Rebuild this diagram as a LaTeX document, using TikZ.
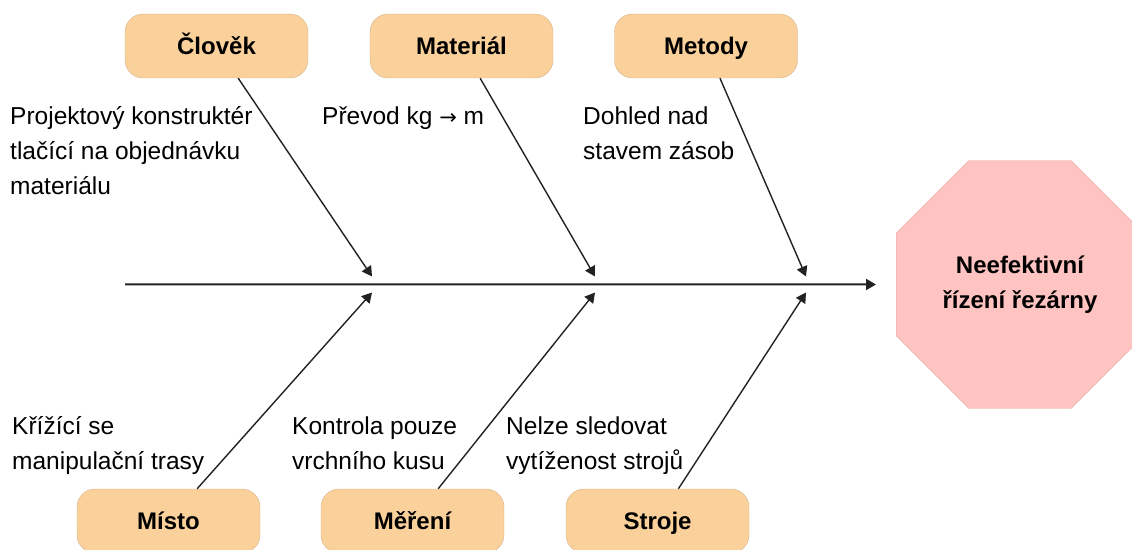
\documentclass[tikz,border=0pt]{standalone}
\usepackage{fontspec}
\setmainfont{Liberation Sans}
\newfontfamily\arrowfont{DejaVu Sans}
\usetikzlibrary{arrows.meta}
\usetikzlibrary{shapes.geometric}

\definecolor{boxfill}{RGB}{250,208,155}
\definecolor{boxline}{RGB}{214,180,140}
\definecolor{headfill}{RGB}{255,196,194}
\definecolor{headline}{RGB}{230,165,165}
\definecolor{ink}{RGB}{34,34,34}

\begin{document}
\begin{tikzpicture}[x=1pt, y=1pt, line/.style={>={Triangle[length=10pt, width=11pt]}},
	cause/.style={draw=boxline, fill=boxfill, rounded corners=18pt, minimum width=183pt, minimum height=64pt,
		text height=17pt, text depth=0pt, font=\fontsize{24}{30}\selectfont\bfseries},
	note/.style={anchor=base west, align=left, inner sep=0pt, font=\fontsize{24.5}{35}\selectfont},
	rib/.style={color=ink, line width=1.4pt}]

	\useasboundingbox (0, 0) rectangle (1132, 549);

	\coordinate (tail) at (125, 264.5);
	\coordinate (s1) at (372, 264.5);
	\coordinate (s2) at (595, 264.5);
	\coordinate (s3) at (806, 264.5);

	\node[draw=headline, fill=headfill, regular polygon, regular polygon sides=8, minimum size=268pt,
		inner sep=0pt, align=center, font=\fontsize{24}{35}\selectfont\bfseries]
		(effect) at (1020, 264.5) {Neefektivní\\řízení řezárny};

	\node[cause] (clovek) at (216.5, 503) {Člověk};
	\node[cause] (material) at (461.5, 503) {Materiál};
	\node[cause] (metody) at (706, 503) {Metody};
	\node[cause] (misto) at (168.5, 28) {Místo};
	\node[cause] (mereni) at (412.5, 28) {Měření};
	\node[cause] (stroje) at (657.5, 28) {Stroje};

	% base = last line of each note
	\node[note] (pozn1) at (10, 354.5) {Projektový konstruktér\\tlačící na objednávku\\materiálu};
	\node[note] (pozn2) at (322, 424.5) {Převod kg {\arrowfont\fontsize{21}{35}\selectfont →} m};
	\node[note] (pozn3) at (583, 389.5) {Dohled nad\\stavem zásob};
	\node[note] (pozn4) at (12, 80) {Křížící se\\manipulační trasy};
	\node[note] (pozn5) at (292, 80) {Kontrola pouze\\vrchního kusu};
	\node[note] (pozn6) at (506, 80) {Nelze sledovat\\vytíženost strojů};

	\draw[->, line, color=ink, line width=2pt] (tail) -- ([xshift=-20pt]effect.west);

	\draw[->, line, rib] (clovek) -- ([yshift=8pt]s1);
	\draw[->, line, rib] (material) -- ([yshift=8pt]s2);
	\draw[->, line, rib] (metody) -- ([yshift=8pt]s3);
	\draw[->, line, rib] (misto) -- ([yshift=-8pt]s1);
	\draw[->, line, rib] (mereni) -- ([yshift=-8pt]s2);
	\draw[->, line, rib] (stroje) -- ([yshift=-8pt]s3);

\end{tikzpicture}
\end{document}
